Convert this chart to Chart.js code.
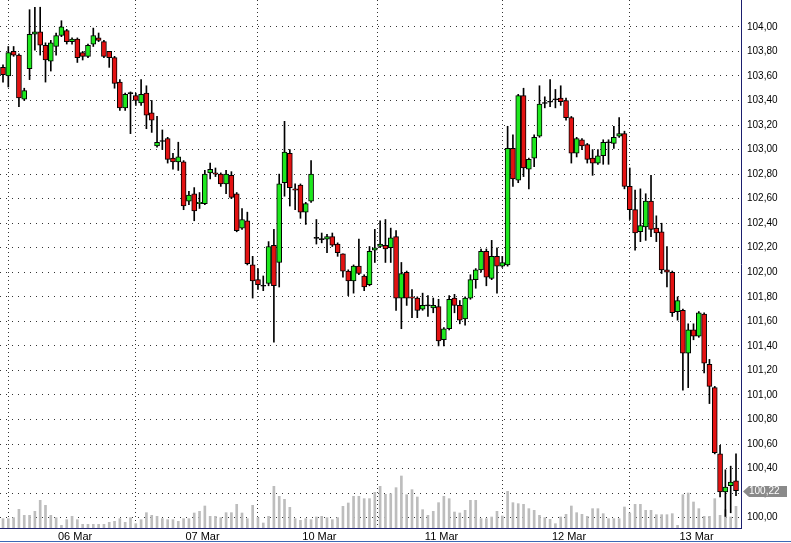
<!DOCTYPE html>
<html>
<head>
<meta charset="utf-8">
<title>Hourly candles 06-13 Mar</title>
<script src="https://cdn.jsdelivr.net/npm/chart.js@4.4.0/dist/chart.umd.min.js"></script>
<style>
  html, body { margin: 0; padding: 0; background: #fff; }
  #wrap { width: 791px; height: 543px; position: relative; }
</style>
</head>
<body>
<div id="wrap"><canvas id="chart" width="791" height="543"></canvas></div>
<script>
// hourly OHLC (index 0 = first candle on the left)
const opens = [
  103.67, 103.60, 103.80, 103.77, 103.41, 103.66, 103.94, 103.96, 103.85, 103.72,
  103.84, 103.93, 103.97, 103.88, 103.90, 103.79, 103.76, 103.86, 103.91, 103.88,
  103.80, 103.75, 103.55, 103.34, 103.46, 103.44, 103.38, 103.46, 103.30, 103.03,
  103.07, 103.09, 102.93, 102.90, 102.90, 102.58, 102.64, 102.56, 102.56, 102.81,
  102.81, 102.80, 102.72, 102.79, 102.64, 102.36, 102.42, 102.06, 101.94, 101.89,
  101.91, 102.22, 102.08, 102.73, 102.97, 102.68, 102.71, 102.49, 102.58, 102.28,
  102.27, 102.27, 102.29, 102.23, 102.15, 102.01, 101.93, 102.05, 101.97, 101.90,
  102.18, 102.21, 102.22, 102.20, 102.29, 101.79, 102.00, 101.80, 101.79, 101.70,
  101.73, 101.71, 101.72, 101.45, 101.54, 101.79, 101.73, 101.62, 101.79, 101.94,
  102.02, 102.17, 101.95, 102.13, 102.05, 102.06, 103.01, 102.75, 103.44, 102.84,
  102.93, 103.11, 103.38, 103.39, 103.41, 103.42, 103.40, 103.26, 102.97, 103.08,
  103.04, 102.93, 102.89, 102.95, 103.06, 103.05, 103.11, 103.13, 102.70, 102.51,
  102.33, 102.37, 102.58, 102.36, 102.33, 102.02, 102.00, 101.68, 101.69, 101.34,
  101.53, 101.48, 101.66, 101.25, 101.06, 100.52, 100.21, 100.26, 100.30
];
const highs = [
  103.69, 103.84, 103.84, 103.78, 103.50, 104.14, 104.16, 104.16, 103.87, 103.89,
  103.95, 104.05, 103.98, 103.91, 103.91, 103.80, 103.86, 103.99, 103.95, 103.89,
  103.80, 103.76, 103.57, 103.46, 103.47, 103.46, 103.57, 103.52, 103.40, 103.27,
  103.16, 103.10, 102.97, 103.06, 102.91, 102.66, 102.69, 102.65, 102.83, 102.89,
  102.85, 102.81, 102.83, 102.82, 102.65, 102.52, 102.49, 102.13, 102.03, 101.97,
  102.25, 102.35, 102.80, 103.23, 103.00, 102.72, 102.72, 102.57, 102.91, 102.43,
  102.32, 102.31, 102.32, 102.24, 102.15, 102.02, 102.06, 102.27, 101.98, 102.21,
  102.35, 102.42, 102.43, 102.36, 102.34, 102.08, 102.01, 101.86, 101.80, 101.83,
  101.81, 101.79, 101.78, 101.55, 101.81, 101.82, 101.77, 101.80, 101.98, 102.03,
  102.19, 102.19, 102.26, 102.20, 102.13, 103.19, 103.12, 103.45, 103.50, 102.93,
  103.12, 103.52, 103.43, 103.57, 103.49, 103.52, 103.42, 103.27, 103.10, 103.09,
  103.05, 103.00, 103.00, 103.08, 103.08, 103.19, 103.26, 103.15, 102.85, 102.67,
  102.68, 102.64, 102.79, 102.46, 102.40, 102.21, 102.01, 101.80, 101.70, 101.58,
  101.58, 101.68, 101.67, 101.29, 101.07, 100.59, 100.39, 100.42, 100.52
];
const lows = [
  103.55, 103.51, 103.76, 103.35, 103.40, 103.57, 103.81, 103.77, 103.55, 103.64,
  103.77, 103.92, 103.86, 103.86, 103.71, 103.73, 103.75, 103.84, 103.88, 103.75,
  103.67, 103.50, 103.32, 103.32, 103.13, 103.36, 103.36, 103.17, 103.14, 103.02,
  103.00, 102.89, 102.84, 102.83, 102.51, 102.55, 102.42, 102.52, 102.55, 102.76,
  102.78, 102.70, 102.64, 102.60, 102.33, 102.35, 102.06, 101.79, 101.86, 101.85,
  101.89, 101.43, 101.88, 102.62, 102.54, 102.51, 102.44, 102.39, 102.57, 102.23,
  102.24, 102.16, 102.21, 102.13, 101.96, 101.81, 101.83, 101.98, 101.85, 101.89,
  102.08, 102.20, 102.08, 102.08, 101.69, 101.54, 101.73, 101.63, 101.63, 101.69,
  101.64, 101.67, 101.40, 101.40, 101.53, 101.67, 101.58, 101.57, 101.78, 101.87,
  102.00, 101.89, 101.94, 101.83, 102.04, 102.05, 102.70, 102.73, 102.78, 102.68,
  102.86, 103.10, 103.34, 103.35, 103.34, 103.36, 103.24, 102.89, 102.94, 103.00,
  102.89, 102.79, 102.88, 102.88, 102.88, 103.01, 103.10, 102.68, 102.43, 102.18,
  102.25, 102.26, 102.29, 102.25, 101.99, 101.88, 101.64, 101.61, 101.04, 101.06,
  101.45, 101.47, 101.18, 100.93, 100.52, 100.17, 100.01, 100.04, 100.18
];
const closes = [
  103.61, 103.79, 103.77, 103.42, 103.48, 103.94, 103.96, 103.85, 103.73, 103.87,
  103.93, 104.00, 103.88, 103.90, 103.75, 103.76, 103.85, 103.93, 103.89, 103.76,
  103.75, 103.54, 103.34, 103.45, 103.46, 103.40, 103.45, 103.28, 103.24, 103.06,
  103.07, 102.92, 102.90, 102.94, 102.54, 102.63, 102.50, 102.57, 102.80, 102.84,
  102.80, 102.72, 102.80, 102.61, 102.34, 102.43, 102.07, 101.93, 101.90, 101.89,
  102.21, 101.89, 102.72, 102.98, 102.69, 102.67, 102.49, 102.56, 102.80, 102.28,
  102.27, 102.29, 102.22, 102.16, 102.01, 101.93, 102.05, 101.99, 101.88, 102.17,
  102.20, 102.23, 102.19, 102.28, 101.79, 101.99, 101.79, 101.79, 101.69, 101.73,
  101.73, 101.73, 101.44, 101.54, 101.78, 101.73, 101.61, 101.79, 101.94, 102.02,
  102.17, 101.96, 102.13, 102.05, 102.08, 103.01, 102.76, 103.44, 102.85, 102.92,
  103.10, 103.37, 103.38, 103.39, 103.41, 103.39, 103.26, 102.97, 103.09, 103.03,
  102.92, 102.89, 102.95, 103.06, 103.06, 103.10, 103.13, 102.70, 102.51, 102.32,
  102.38, 102.58, 102.35, 102.32, 102.02, 102.00, 101.67, 101.77, 101.34, 101.53,
  101.48, 101.67, 101.26, 101.07, 100.53, 100.21, 100.25, 100.29, 100.22
];
// volume (relative units)
const volumes = [
  28, 28, 31, 56, 38, 38, 50, 83, 68, 38,
  31, 8, 25, 35, 25, 11, 11, 11, 11, 11,
  17, 20, 28, 17, 31, 13, 25, 46, 38, 35,
  28, 25, 25, 20, 28, 28, 45, 50, 66, 35,
  35, 31, 46, 46, 71, 45, 28, 68, 31, 15,
  35, 125, 95, 86, 62, 28, 23, 28, 25, 33,
  35, 31, 25, 31, 65, 75, 95, 95, 88, 88,
  107, 125, 101, 103, 121, 156, 100, 115, 93, 55,
  38, 50, 76, 95, 88, 48, 45, 53, 83, 83,
  28, 28, 33, 50, 36, 110, 76, 73, 71, 58,
  53, 38, 31, 26, 13, 33, 41, 66, 46, 41,
  35, 58, 58, 43, 28, 28, 28, 63, 45, 71,
  71, 53, 53, 40, 40, 40, 43, 8, 100, 105,
  78, 58, 35, 35, 88, 38, 55, 33, 65
];

// first candle of each day
const dayTicks = [13, 37, 59, 82, 106, 130];
const dayLabels = ['06 Mar', '07 Mar', '10 Mar', '11 Mar', '12 Mar', '13 Mar'];
const priceTicks = [100.0, 100.2, 100.4, 100.6, 100.8, 101.0, 101.2, 101.4, 101.6, 101.8,
  102.0, 102.2, 102.4, 102.6, 102.8, 103.0, 103.2, 103.4, 103.6, 103.8, 104.0];

const UP = '#1ee81e';
const DOWN = '#e31212';

const fmt = v => v.toFixed(2).replace('.', ',');

function bodyRange(i) {
  if (opens[i] === closes[i]) return [opens[i] - 0.004, opens[i] + 0.004];
  return [opens[i], closes[i]];
}

function bodyColor(i) {
  if (closes[i] > opens[i]) return UP;
  if (closes[i] < opens[i]) return DOWN;
  return '#000';
}

// grey last-price flag on the price axis + window frame line
const lastPriceTag = {
  id: 'lastPriceTag',
  afterDraw(chart) {
    const { ctx, chartArea } = chart;
    const y = chart.scales.y;
    const last = closes[closes.length - 1];
    const py = Math.round(y.getPixelForValue(last)) + 0.5;
    const x0 = chartArea.right + 2;
    ctx.save();
    ctx.fillStyle = '#8a8a8a';
    ctx.beginPath();
    ctx.moveTo(x0, py);
    ctx.lineTo(x0 + 6, py - 5.5);
    ctx.lineTo(x0 + 44, py - 5.5);
    ctx.lineTo(x0 + 44, py + 5.5);
    ctx.lineTo(x0 + 6, py + 5.5);
    ctx.closePath();
    ctx.fill();
    ctx.fillStyle = '#fff';
    ctx.font = '10px Arial, "Liberation Sans"';
    ctx.textBaseline = 'middle';
    ctx.textAlign = 'left';
    ctx.fillText(fmt(last), x0 + 6, py);
    ctx.fillStyle = '#3d69b5';
    ctx.fillRect(0, chart.height - 2, chart.width, 1);
    ctx.restore();
  }
};

const idx = opens.map((_, i) => i);

const chart = new Chart(document.getElementById('chart'), {
  type: 'bar',
  data: {
    datasets: [
      {
        label: 'Body',
        data: idx.map(i => ({ x: i, y: bodyRange(i) })),
        backgroundColor: c => bodyColor(c.dataIndex),
        borderColor: '#000',
        borderWidth: 1,
        borderSkipped: false,
        barThickness: 5,
        grouped: false,
        order: 0,
        yAxisID: 'y'
      },
      {
        label: 'Wick',
        data: idx.map(i => ({ x: i, y: [lows[i], highs[i]] })),
        backgroundColor: '#000',
        borderWidth: 0,
        barThickness: 1,
        grouped: false,
        order: 1,
        yAxisID: 'y'
      },
      {
        label: 'Volume',
        data: idx.map(i => ({ x: i, y: volumes[i] })),
        backgroundColor: '#bdbdbd',
        borderWidth: 0,
        barThickness: 2,
        grouped: false,
        order: 2,
        yAxisID: 'yv'
      }
    ]
  },
  options: {
    responsive: false,
    animation: false,
    layout: { padding: 0 },
    plugins: {
      legend: { display: false },
      tooltip: { enabled: false }
    },
    scales: {
      x: {
        type: 'linear',
        min: -0.565,
        max: 138.94,
        offset: false,
        afterBuildTicks: s => { s.ticks = dayTicks.map(v => ({ value: v })); },
        afterFit: s => { s.height = 15; s.paddingLeft = 0; s.paddingRight = 0; },
        grid: { color: '#333', drawTicks: false },
        border: { color: '#1b1f6e', width: 1, dash: [1, 3] },
        ticks: {
          padding: 2,
          labelOffset: 3,
          autoSkip: false,
          maxRotation: 0,
          color: '#000',
          font: { family: 'Arial, "Liberation Sans"', size: 11 },
          callback: v => dayLabels[dayTicks.indexOf(v)]
        }
      },
      y: {
        position: 'right',
        min: 99.916,
        max: 104.219,
        afterBuildTicks: s => { s.ticks = priceTicks.map(v => ({ value: v })); },
        afterFit: s => { s.width = 50; s.paddingTop = 0; s.paddingBottom = 0; },
        grid: { color: '#333', drawTicks: false },
        border: { color: '#1b1f6e', width: 1, dash: [1, 5] },
        ticks: {
          padding: 6,
          color: '#000',
          font: { family: 'Arial, "Liberation Sans"', size: 10 },
          callback: v => fmt(v)
        }
      },
      yv: {
        display: false,
        min: 0,
        max: 1584
      }
    }
  },
  plugins: [lastPriceTag]
});
</script>
</body>
</html>
